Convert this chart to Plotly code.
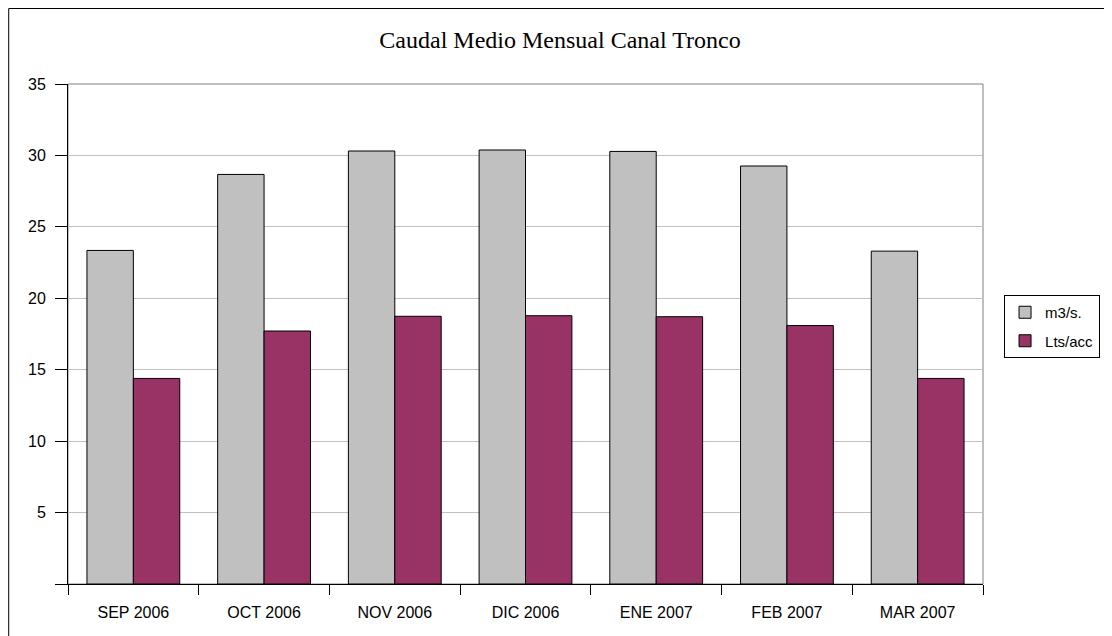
import plotly.graph_objects as go

# data
months = ["SEP 2006", "OCT 2006", "NOV 2006", "DIC 2006", "ENE 2007", "FEB 2007", "MAR 2007"]
caudal_m3s = [23.35, 28.67, 30.31, 30.38, 30.28, 29.26, 23.30]
lts_acc = [14.39, 17.71, 18.74, 18.78, 18.71, 18.09, 14.39]
y_ticks = [0, 5, 10, 15, 20, 25, 30, 35]
y_labels = ["", "5", "10", "15", "20", "25", "30", "35"]

fig = go.Figure()
fig.add_trace(go.Bar(x=months, y=caudal_m3s, name="m3/s.", legendgroup="a",
                     marker=dict(color="#C0C0C0", line=dict(color="#000000", width=1))))
fig.add_trace(go.Bar(x=months, y=lts_acc, name="Lts/acc", legendgroup="b",
                     marker=dict(color="#993366", line=dict(color="#000000", width=1))))

# page body adds an 8px offset, so the figure is a bit smaller than the window
fig.update_layout(
    width=1104, height=628,
    margin=dict(l=60, r=127, t=76, b=52),
    paper_bgcolor="white", plot_bgcolor="white",
    barmode="group", bargap=0.29, bargroupgap=0,
    title=dict(text="Caudal Medio Mensual Canal Tronco", x=0.5, xref="container",
               xanchor="center", y=0.949, yanchor="middle",
               font=dict(family="Liberation Serif", size=24, color="#000000")),
    font=dict(family="Liberation Sans, Arial", size=16, color="#000000"),
    legend=dict(x=1.023, y=0.515, xanchor="left", yanchor="middle",
                bordercolor="#000000", borderwidth=1, bgcolor="white",
                font=dict(size=15), tracegroupgap=6, itemwidth=30),
    showlegend=True,
)

fig.update_xaxes(
    showline=True, linecolor="#000000", linewidth=1,
    ticks="outside", tickson="boundaries", ticklen=10, tickcolor="#000000",
    ticklabelstandoff=14, showgrid=False,
)
fig.update_yaxes(
    range=[0, 35], tickvals=y_ticks, ticktext=y_labels,
    showline=True, linecolor="#000000", linewidth=1,
    ticks="outside", ticklen=12, tickcolor="#000000", ticklabelstandoff=6,
    showgrid=True, gridcolor="#C0C0C0", gridwidth=1, zeroline=False,
)

# plot-area frame (grey, Excel style) and outer chart border
fig.add_shape(type="rect", xref="paper", yref="paper", x0=0, x1=1, y0=0, y1=1,
              line=dict(color="#808080", width=1), layer="below")
fig.add_shape(type="rect", xref="paper", yref="paper", x0=-0.0648, x1=1.2, y0=-0.2, y1=1.151,
              line=dict(color="#000000", width=1), layer="below")

fig.write_html("out.html")
